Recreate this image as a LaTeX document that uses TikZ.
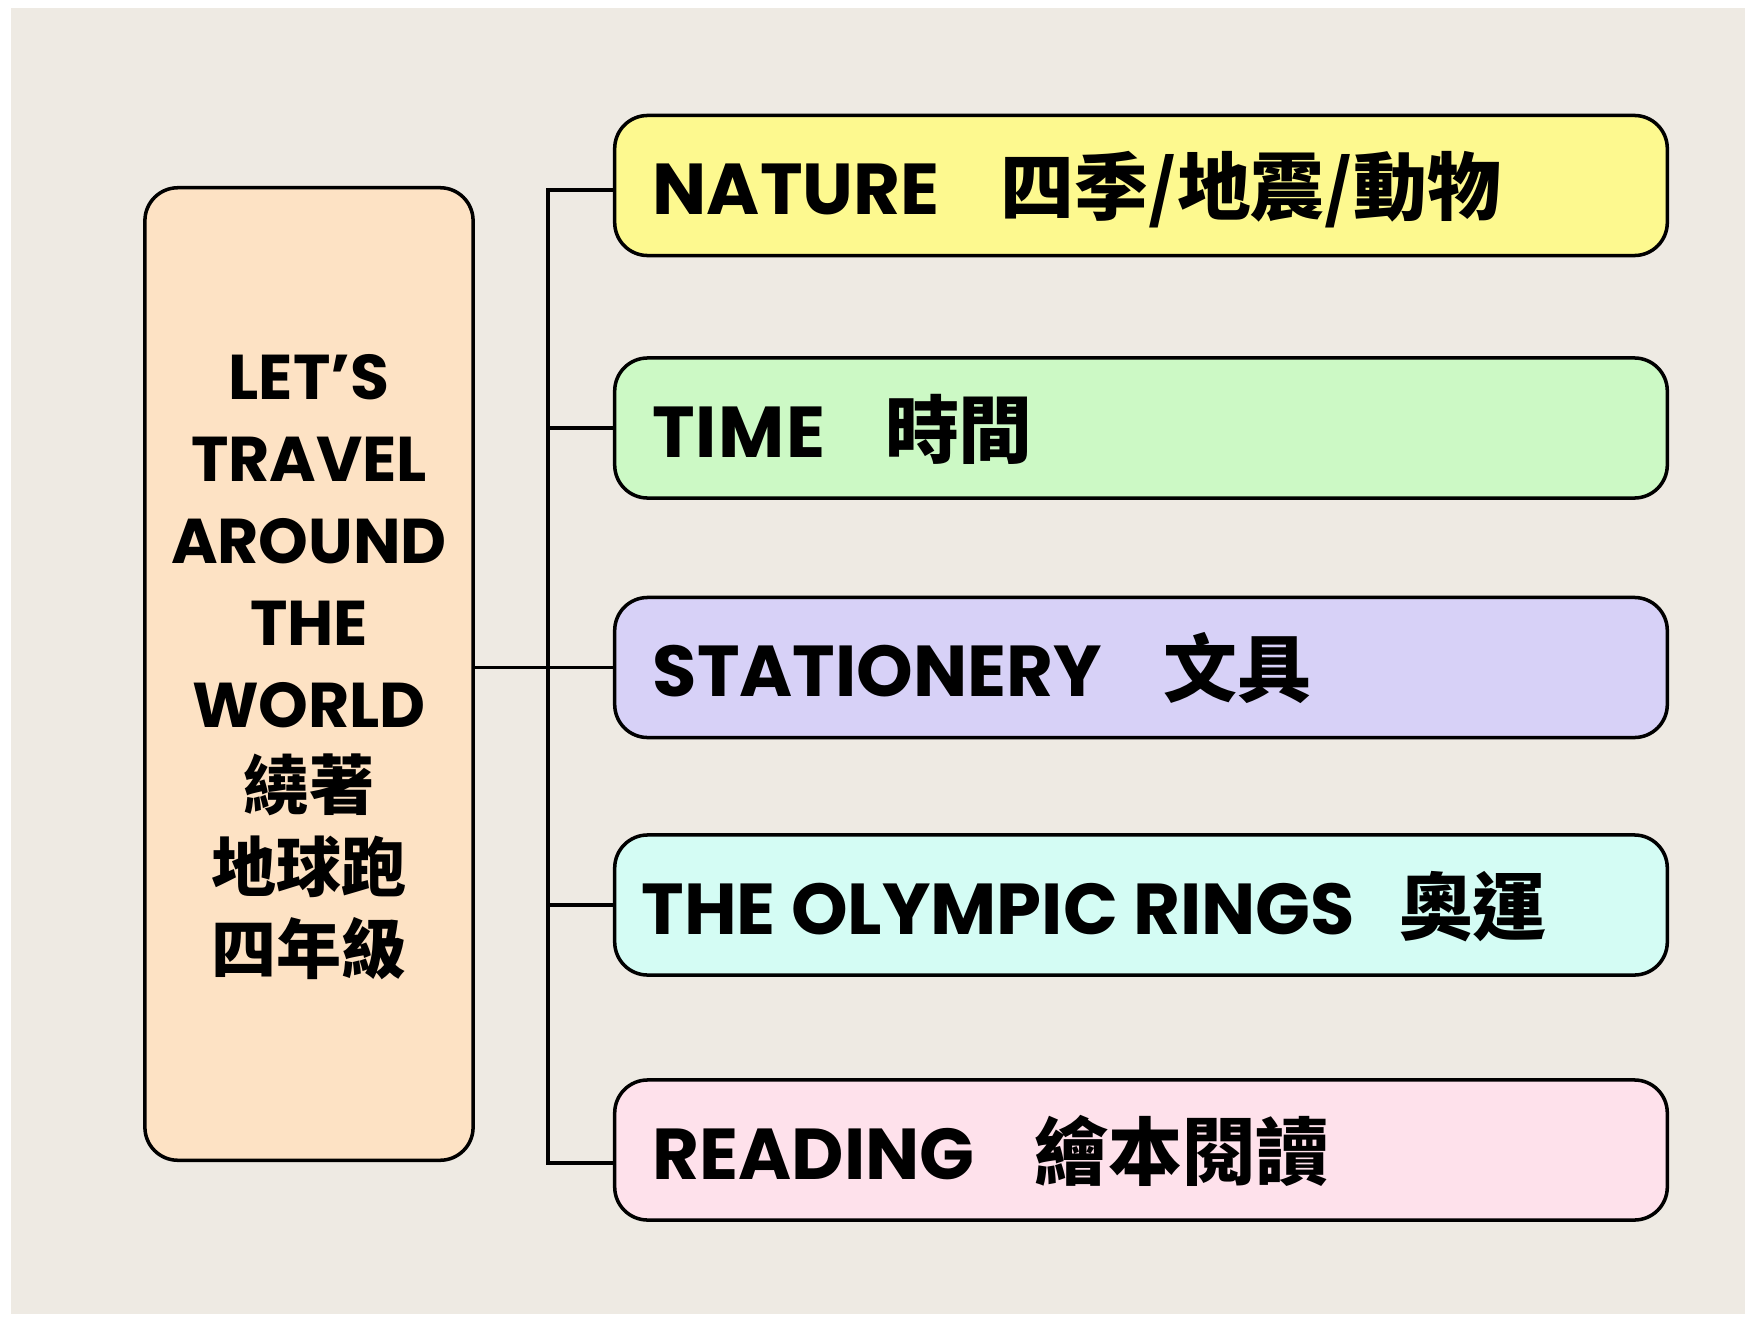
\documentclass[tikz,border=0pt]{standalone}
\usepackage{fontspec}
\setmainfont{Poppins}
\newfontfamily\cjk{Noto Sans CJK TC}
\definecolor{paper}{HTML}{EEEAE3}
\definecolor{peach}{HTML}{FDE2C4}
\definecolor{yel}{HTML}{FDF98F}
\definecolor{grn}{HTML}{CCF9C5}
\definecolor{lav}{HTML}{D7D1F7}
\definecolor{cya}{HTML}{D4FCF4}
\definecolor{pnk}{HTML}{FEE1EB}
\tikzset{
  topic/.style={draw=black, line width=1pt, rounded corners=0.33cm, minimum width=10.52cm, minimum height=1.40cm, inner sep=0pt},
  mainbox/.style={draw=black, line width=1pt, rounded corners=0.33cm, minimum width=3.28cm, minimum height=9.72cm, inner sep=0pt, fill=peach},
  lbl/.style={anchor=base west, inner sep=0pt, font=\bfseries\fontsize{20.5}{24}\selectfont},
  conn/.style={line width=0.9pt, line join=miter}
}
\newcommand{\gapcjk}[1]{\hspace{#1}\cjk\bfseries\fontsize{21}{24}\selectfont}
\newcommand{\lcjk}{\cjk\bfseries\fontsize{18.5}{23.3}\selectfont}
\begin{document}
\begin{tikzpicture}[x=0.01cm,y=-0.01cm]
\fill[white] (0,0) rectangle (1754,1321);
\useasboundingbox (0,0) rectangle (1754,1321);
\fill[paper] (11,8) rectangle (1745,1314);

% main box
\node[mainbox] (main) at (309,674) {};
\node[align=center, inner sep=0pt, font=\bfseries\fontsize{18}{23.3}\selectfont] (maint) at (309,667)
  {LET’S\\TRAVEL\\AROUND\\THE\\WORLD\\{\lcjk 繞著}\\{\lcjk 地球跑}\\{\lcjk 四年級}};

% topic boxes
\node[topic, fill=yel] (nat) at (1141,185.5) {};
\node[topic, fill=grn] (tim) at (1141,428) {};
\node[topic, fill=lav] (sta) at (1141,667.5) {};
\node[topic, fill=cya] (oly) at (1141,905) {};
\node[topic, fill=pnk] (rea) at (1141,1150) {};

\node[lbl] (natt) at ([xshift=0.39cm,yshift=-0.29cm]nat.west) {NATURE\gapcjk{17.5pt}四季/地震/動物};
\node[lbl] (timt) at ([xshift=0.39cm,yshift=-0.29cm]tim.west) {TI\kern0.5pt M\kern0.5pt E\gapcjk{17pt}時間};
\node[lbl] (stat) at ([xshift=0.39cm,yshift=-0.29cm]sta.west) {STATIONERY\gapcjk{17.5pt}文具};
\node[lbl] (olyt) at ([xshift=0.28cm,yshift=-0.29cm]oly.west) {THE OLYMPIC RINGS\gapcjk{12.5pt}奧運};
\node[lbl] (reat) at ([xshift=0.39cm,yshift=-0.29cm]rea.west) {READING\gapcjk{17pt}繪本閱讀};

% connectors
\coordinate (vx) at (548,0);
\coordinate (natj) at ([yshift=-0.045cm]nat.west);
\coordinate (reaj) at ([yshift=-0.13cm]rea.west);
\draw[conn] (natj) -- (vx |- natj) -- (vx |- reaj) -- (reaj);
\draw[conn] (vx |- tim.west) -- (tim.west);
\draw[conn] (main.east |- sta.west) -- (sta.west);
\draw[conn] (vx |- oly.west) -- (oly.west);
\end{tikzpicture}
\end{document}
